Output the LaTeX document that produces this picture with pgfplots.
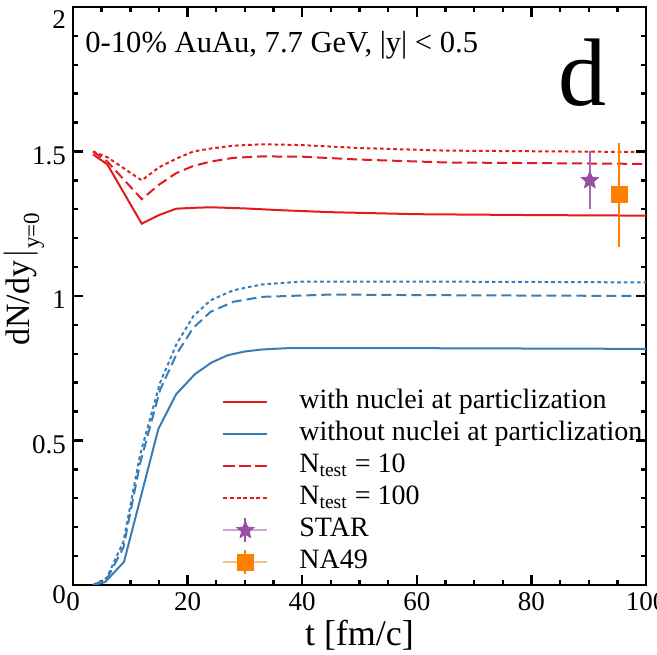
\documentclass[border=0pt]{standalone}
\usepackage{fontspec}
\setmainfont{Liberation Serif}
\usepackage{pgfplots}
\pgfplotsset{compat=1.18}

\definecolor{sred}{HTML}{E41A1C}
\definecolor{sblue}{HTML}{377EB8}
\definecolor{spurple}{HTML}{984EA3}
\definecolor{sorange}{HTML}{FF7F00}

% filled five-pointed star
\pgfdeclareplotmark{fstar}{%
  \pgfpathmoveto{\pgfpointpolar{90}{\pgfplotmarksize}}%
  \pgfpathlineto{\pgfpointpolar{126}{0.45\pgfplotmarksize}}%
  \pgfpathlineto{\pgfpointpolar{162}{\pgfplotmarksize}}%
  \pgfpathlineto{\pgfpointpolar{198}{0.45\pgfplotmarksize}}%
  \pgfpathlineto{\pgfpointpolar{234}{\pgfplotmarksize}}%
  \pgfpathlineto{\pgfpointpolar{270}{0.45\pgfplotmarksize}}%
  \pgfpathlineto{\pgfpointpolar{306}{\pgfplotmarksize}}%
  \pgfpathlineto{\pgfpointpolar{342}{0.45\pgfplotmarksize}}%
  \pgfpathlineto{\pgfpointpolar{18}{\pgfplotmarksize}}%
  \pgfpathlineto{\pgfpointpolar{54}{0.45\pgfplotmarksize}}%
  \pgfpathclose
  \pgfusepathqfillstroke
}

\begin{document}
\begin{tikzpicture}
\begin{axis}[
  scale only axis,
  width=286.5pt, height=289pt,
  xmin=0, xmax=100, ymin=0, ymax=2,
  xtick={0,20,...,100},
  ytick={0,0.5,1,1.5,2},
  yticklabels={\raisebox{-7.5pt}[0pt][0pt]{0},0.5,1,1.5,\raisebox{-9pt}[0pt][0pt]{2}},
  minor x tick num=3, minor y tick num=4,
  tick pos=both,
  tick align=inside,
  major tick length=5pt, minor tick length=2.5pt,
  every tick/.append style={black, line width=1.2pt},
  axis line style={line width=1.2pt},
  tick label style={font=\fontsize{13.5}{15}\selectfont},
  y tick label style={yshift=-2pt},
  /pgf/number format/assume math mode=true,
  xlabel={t [fm/c]},
  ylabel={dN/dy$\left.\vphantom{dy}\right|_{\mbox{\fontsize{11.5}{12}\selectfont y=0}}$},
  every axis x label/.style={at={(axis description cs:0.5,-0.104)}, anchor=base,
    font=\fontsize{18}{20}\selectfont},
  every axis y label/.style={at={(axis description cs:-0.086,0.53)}, rotate=90, anchor=center,
    inner sep=0pt, font=\fontsize{17}{19}\selectfont},
  legend style={at={(axis description cs:0.26,0.341)}, anchor=north west,
    draw=none, fill=none, inner sep=0pt, row sep=2pt,
    font=\fontsize{14}{16}\selectfont,
    nodes={inner sep=0pt, text height=10pt, text depth=4pt}},
  legend cell align=left,
]

% with nuclei at particlization
\addplot[sred, line width=1pt,
  legend image code/.code={\draw[sred, line width=1pt] (0pt,0pt) -- (22pt,0pt);
    \path[draw=none, fill=none] (0pt,0pt) rectangle (38pt,0pt);}] coordinates {
  (3.5,1.49) (6,1.455) (12,1.25) (15,1.28) (18,1.302) (21,1.305) (24,1.307)
  (30,1.303) (36,1.297) (45,1.29) (60,1.283) (80,1.28) (100,1.278)
};
\addlegendentry{with nuclei at particlization}

% without nuclei at particlization
\addplot[sblue, line width=1pt,
  legend image code/.code={\draw[sblue, line width=1pt] (0pt,0pt) -- (22pt,0pt);
    \path[draw=none, fill=none] (0pt,0pt) rectangle (38pt,0pt);}] coordinates {
  (3.5,0) (5.6,0.01) (8.9,0.08) (14.9,0.54) (18,0.66) (21.3,0.73) (24.2,0.77)
  (27,0.795) (30,0.808) (33,0.815) (38,0.82) (50,0.82) (100,0.817)
};
\addlegendentry{without nuclei at particlization}

% N_test = 10
\addplot[sred, line width=1pt, dash pattern=on 5pt off 2.5pt,
  legend image code/.code={\draw[sred, line width=1pt, dash pattern=on 6pt off 2pt]
      (0pt,0pt) -- (22pt,0pt);
    \path[draw=none, fill=none] (0pt,0pt) rectangle (38pt,0pt);}] coordinates {
  (3.5,1.50) (6,1.465) (12,1.335) (15,1.385) (18,1.425) (21,1.45) (24,1.465)
  (28,1.478) (33,1.483) (40,1.482) (50,1.472) (65,1.462) (100,1.457)
};
\addlegendentry{N\textsubscript{test} = 10}

% N_test = 100
\addplot[sred, line width=1pt, dash pattern=on 1.8pt off 1.5pt,
  legend image code/.code={\draw[sred, line width=1pt, dash pattern=on 2pt off 1.3pt]
      (0pt,0pt) -- (22pt,0pt);
    \path[draw=none, fill=none] (0pt,0pt) rectangle (38pt,0pt);}] coordinates {
  (3.5,1.50) (6,1.48) (12,1.40) (15,1.445) (18,1.475) (21,1.50) (24,1.51)
  (28,1.52) (33,1.525) (40,1.522) (50,1.512) (65,1.503) (100,1.498)
};
\addlegendentry{N\textsubscript{test} = 100}

% blue, N_test = 10 and 100
\addplot[sblue, line width=1pt, dash pattern=on 5pt off 2.5pt, forget plot] coordinates {
  (3.5,0) (5.9,0.02) (8.8,0.13) (11.7,0.42) (15.2,0.675) (18.1,0.80) (21,0.89)
  (24,0.945) (28,0.98) (33,0.997) (45,1.005) (60,1.003) (100,1.0)
};
\addplot[sblue, line width=1pt, dash pattern=on 1.8pt off 1.5pt, forget plot] coordinates {
  (3.5,0) (5.9,0.025) (8.8,0.15) (11.7,0.45) (15.2,0.70) (18.1,0.835) (21,0.93)
  (24,0.985) (28,1.02) (33,1.04) (40,1.05) (60,1.05) (100,1.047)
};

% STAR
\addplot[only marks, mark=fstar, mark size=4.5pt, spurple,
  legend image code/.code={%
    \draw[spurple!50, line width=1pt] (0pt,0pt) -- (22pt,0pt);
    \draw[spurple, line width=1pt] (11pt,-6pt) -- (11pt,6pt);
    \draw[spurple, mark=fstar, mark size=4.5pt] plot coordinates {(11pt,0pt)};
    \path[draw=none, fill=none] (0pt,0pt) rectangle (38pt,0pt);},
  error bars/.cd, y dir=both, y explicit, error mark=none,
  error bar style={spurple!85, line width=1pt}]
  coordinates {(90.2,1.40) +- (0,0.10)};
\addlegendentry{STAR}

% NA49
\addplot[only marks, mark=square*, mark size=4pt, sorange,
  legend image code/.code={%
    \draw[sorange!50, line width=1pt] (0pt,0pt) -- (22pt,0pt);
    \draw[sorange, line width=1pt] (11pt,-6pt) -- (11pt,6pt);
    \draw[sorange, mark=square*, mark size=4pt] plot coordinates {(11pt,0pt)};
    \path[draw=none, fill=none] (0pt,0pt) rectangle (38pt,0pt);},
  error bars/.cd, y dir=both, y explicit, error mark=none,
  error bar style={sorange, line width=1pt}]
  coordinates {(95.3,1.35) +- (0,0.18)};
\addlegendentry{NA49}

% ticks on the top and right sides
\pgfplotsinvokeforeach{5,10,15,25,30,35,45,50,55,65,70,75,85,90,95}{
  \draw[black, line width=1.2pt] (axis cs:#1,2) -- ([yshift=-2.5pt]axis cs:#1,2);}
\pgfplotsinvokeforeach{20,40,60,80}{
  \draw[black, line width=1.2pt] (axis cs:#1,2) -- ([yshift=-5pt]axis cs:#1,2);}
\pgfplotsinvokeforeach{0.1,0.2,0.3,0.4,0.6,0.7,0.8,0.9,1.1,1.2,1.3,1.4,1.6,1.7,1.8,1.9}{
  \draw[black, line width=1.2pt] (axis cs:100,#1) -- ([xshift=-2.5pt]axis cs:100,#1);}
\pgfplotsinvokeforeach{0.5,1,1.5}{
  \draw[black, line width=1.2pt] (axis cs:100,#1) -- ([xshift=-5pt]axis cs:100,#1);}

\node[anchor=base west, inner sep=0pt, font=\fontsize{15.3}{17}\selectfont]
  at (axis description cs:0.021,0.922) {0-10\% AuAu, 7.7 GeV, |y| < 0.5};
\node[anchor=base, inner sep=0pt, font=\fontsize{48}{50}\selectfont]
  at (axis description cs:0.89,0.830) {d};
\end{axis}
\pgfresetboundingbox
\useasboundingbox ([xshift=-36.5pt,yshift=-35pt]current axis.south west)
  rectangle ([xshift=5.5pt,yshift=3.5pt]current axis.north east);
\end{tikzpicture}
\end{document}
